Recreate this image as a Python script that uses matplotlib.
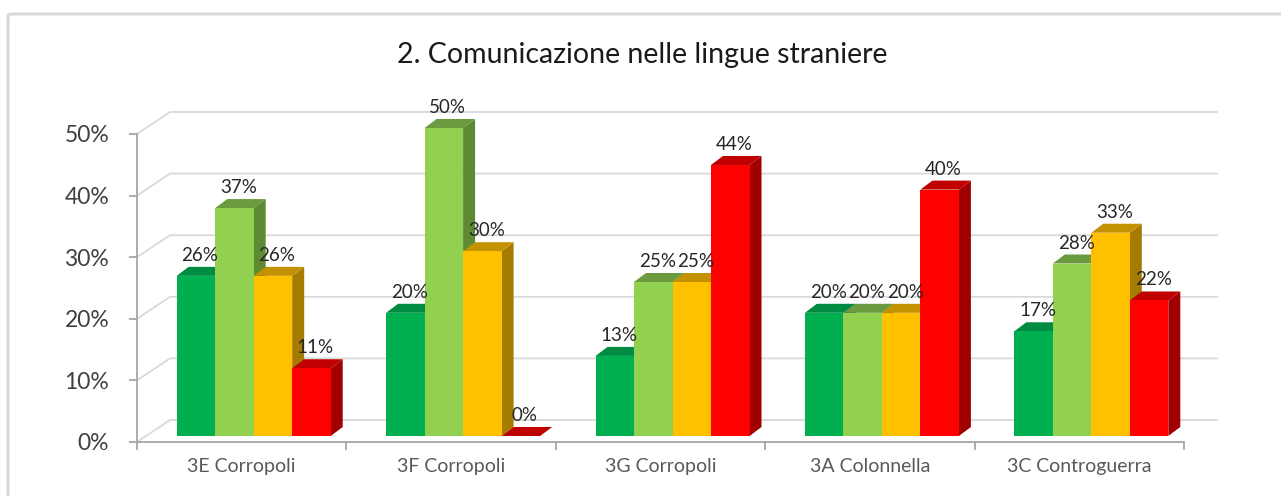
import matplotlib
matplotlib.use("Agg")
import matplotlib.pyplot as plt
from matplotlib.patches import Polygon, FancyBboxPatch

# dati
classi = ["3E Corropoli", "3F Corropoli", "3G Corropoli", "3A Colonnella", "3C Controguerra"]
verde_scuro = [26, 20, 13, 20, 17]
verde_chiaro = [37, 50, 25, 20, 28]
giallo = [26, 30, 25, 20, 33]
rosso = [11, 0, 44, 40, 22]
serie = [verde_scuro, verde_chiaro, giallo, rosso]
yticks = [0, 10, 20, 30, 40, 50]

# colori: fronte, lato, cima
colori = [("#00B050", "#007A38", "#008B43"),
          ("#92D050", "#5E8A33", "#6C9A3E"),
          ("#FFC000", "#A67C00", "#C49200"),
          ("#FF0000", "#A00000", "#C00000")]

W, H = 1281, 496
fig = plt.figure(figsize=(W / 100, H / 100), dpi=100)
plt.rcParams["font.family"] = ["Lato", "DejaVu Sans"]

# bordo del grafico
bordo = FancyBboxPatch((8 / W, -0.2), 1.2, 1.2 - 14 / H,
                       boxstyle="round,pad=0,rounding_size=0.004",
                       transform=fig.transFigure, fill=False,
                       edgecolor="#D9D9D9", linewidth=2.2)
fig.patches.append(bordo)

x0, x1 = 137, 1184
y0, y1 = 442, 134
ax = fig.add_axes([x0 / W, 1 - y0 / H, (x1 - x0) / W, (y0 - y1) / H])
ax.set_xlim(-0.5, 4.5)
ax.set_ylim(0, 50)

px_x = 5 / (x1 - x0)   # unità per pixel
px_y = 50 / (y0 - y1)

# parete di fondo (griglia prospettica)
DX, DY = 33 * px_x, 22 * px_y
for v in yticks:
    ax.plot([-0.5, -0.5 + DX, 4.5 + DX], [v, v + DY, v + DY],
            color="#D9D9D9", lw=1.3, clip_on=False, zorder=1)

# barre 3D
bw = 38.5 * px_x
off_x = 12 * px_x
off_y = 6 * px_y
sx, sy = 12 * px_x, 9 * px_y
for j, vals in enumerate(serie):
    fc, sc, tc = colori[j]
    for i, v in enumerate(vals):
        left = i - 2 * bw + j * bw + off_x
        b = off_y
        t = v + off_y
        ax.add_patch(Polygon([(left + bw, b), (left + bw + sx, b + sy), (left + bw + sx, t + sy), (left + bw, t)],
                             closed=True, facecolor=sc, edgecolor="none", zorder=3 + j, clip_on=False))
        ax.add_patch(Polygon([(left, t), (left + sx, t + sy), (left + bw + sx, t + sy), (left + bw, t)],
                             closed=True, facecolor=tc, edgecolor="none", zorder=3 + j, clip_on=False))
        ax.bar(left, v, width=bw, bottom=b, align="edge", color=fc, edgecolor="none",
               zorder=3 + j, clip_on=False)
        ax.text(left + bw / 2 + sx / 2 - 2 * px_x, t + sy + 3 * px_y, f"{v}%", ha="center", va="bottom",
                fontsize=13.5, color="#262626", zorder=20, clip_on=False)

# assi
for s in ["top", "right"]:
    ax.spines[s].set_visible(False)
ax.spines["left"].set_color("#A6A6A6")
ax.spines["bottom"].set_color("#A6A6A6")
ax.spines["left"].set_linewidth(1.3)
ax.spines["bottom"].set_linewidth(1.3)
ax.set_yticks(yticks)
ax.set_yticklabels([f"{v}%" for v in yticks], fontsize=16.5, color="#404040")
ax.tick_params(axis="y", length=6, color="#A6A6A6", width=1.3, pad=14)
ax.set_xticks([i - 0.5 for i in range(6)])
ax.set_xticklabels([])
ax.tick_params(axis="x", length=6, color="#A6A6A6", width=1.3)
for i, c in enumerate(classi):
    ax.text(i, -2.6, c, ha="center", va="top", fontsize=14, color="#595959")
ax.patch.set_alpha(0)

fig.text(642 / W, 1 - 55 / H, "2. Comunicazione nelle lingue straniere",
         ha="center", va="center", fontsize=20.5, color="#1A1A1A")

fig.savefig("out.png", dpi=100)
